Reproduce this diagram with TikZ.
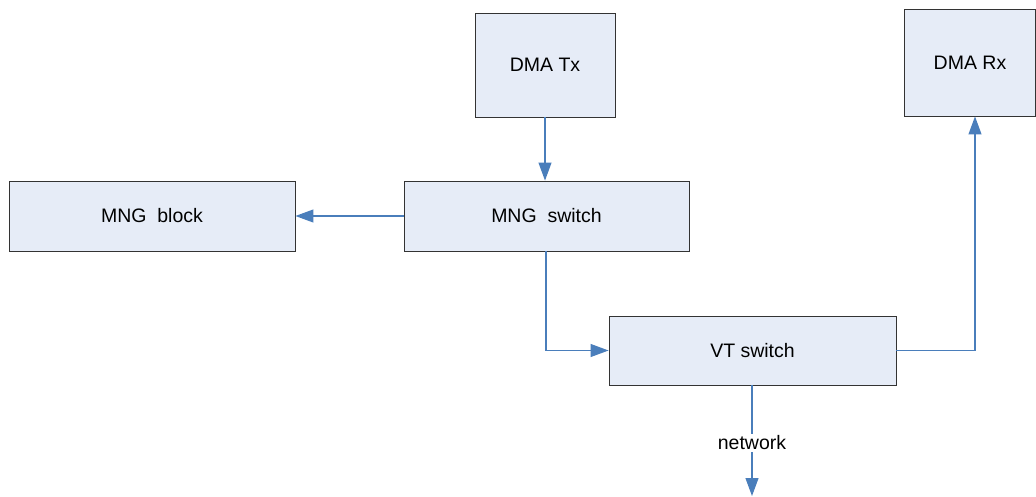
\documentclass[tikz,border=0pt]{standalone}
\usepackage{fontspec}
\setmainfont{Liberation Sans}
\usetikzlibrary{arrows.meta}
\definecolor{boxfill}{RGB}{230,236,247}
\definecolor{linkblue}{RGB}{74,126,187}

\begin{document}
\begin{tikzpicture}[x=1pt,y=-1pt,
  blk/.style={draw=black!80,line width=0.9pt,fill=boxfill,font=\fontsize{19.5}{22}\selectfont,inner sep=0pt},
  link/.style={draw=linkblue,line width=1.1pt,-{Triangle[length=18pt,width=13pt]}}]
  \useasboundingbox (0,0) rectangle (1036,497);
  % blocks
  \node[blk,minimum width=140pt,minimum height=104pt] (tx) at (545,65) {DMA Tx};
  \node[blk,minimum width=131pt,minimum height=107pt] (rx) at (970,62.5) {DMA Rx};
  \node[blk,minimum width=286pt,minimum height=70pt] (mngblock) at (152,216) {MNG\ \ block};
  \node[blk,minimum width=285pt,minimum height=70pt] (mngsw) at (546.5,216) {MNG\ \ switch};
  \node[blk,minimum width=287pt,minimum height=69pt] (vtsw) at (752.5,350.5) {VT switch};
  \coordinate (net) at (752,496);
  % links
  \draw[link] (tx.south) -- (tx.south |- mngsw.north);
  \draw[link] (mngsw) -- (mngblock);
  \draw[link] (mngsw.south -| 546,0) |- (vtsw.west);
  \draw[link] (vtsw.east) -| (rx.south -| 975,0);
  \draw[link] (vtsw.south -| net) -- node[pos=0.52,fill=white,inner sep=2pt,font=\fontsize{19.5}{22}\selectfont] (netlabel) {network} (net);
\end{tikzpicture}
\end{document}
